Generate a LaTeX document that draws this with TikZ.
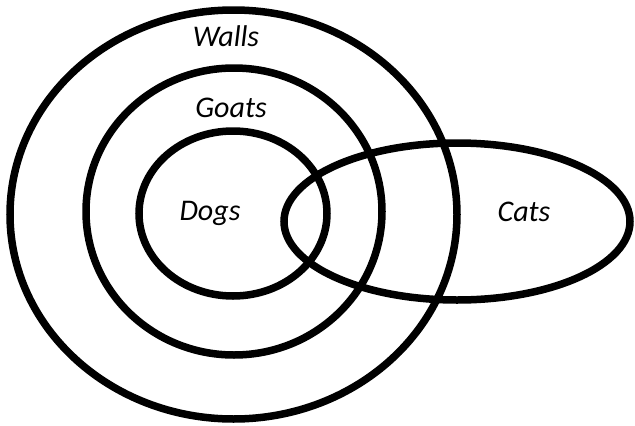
\documentclass[tikz,border=0pt]{standalone}
\usepackage{fontspec}
\setmainfont{Carlito}
\usepackage{tikz}

\begin{document}
\begin{tikzpicture}[x=1pt, y=-1pt, line width=7.5pt,
  every node/.style={font=\itshape\fontsize{30}{34}\selectfont}]
  \useasboundingbox (0,0) rectangle (635,426);
  % Walls
  \draw (233.5,214.5) ellipse (223.5 and 204.5);
  \node (walls) at (226,36) {Walls};
  % Goats
  \draw (234,211.5) ellipse (148 and 143.5);
  \node (goats) at (231,108) {Goats};
  % Dogs
  \draw (233,213.5) ellipse (94 and 82.5);
  \node (dogs) at (210,213) {Dogs};
  % Cats
  \draw (457,221.5) ellipse (173 and 78.5);
  \node (cats) at (524,212) {Cats};
\end{tikzpicture}
\end{document}
